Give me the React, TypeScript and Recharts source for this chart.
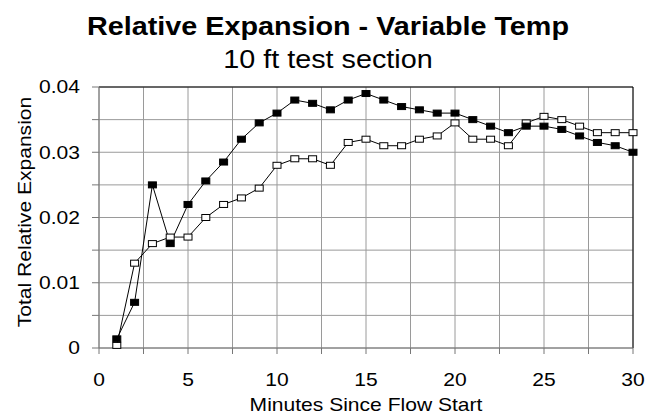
import React from "react";
import {
  LineChart,
  Line,
  XAxis,
  YAxis,
  CartesianGrid,
  ReferenceLine,
} from "recharts";

const minutes = [
  1, 2, 3, 4, 5, 6, 7, 8, 9, 10, 11, 12, 13, 14, 15, 16, 17, 18, 19, 20, 21,
  22, 23, 24, 25, 26, 27, 28, 29, 30,
];

// filled squares
const seriesA = [
  0.0014, 0.007, 0.025, 0.016, 0.022, 0.0256, 0.0285, 0.032, 0.0345, 0.036,
  0.038, 0.0375, 0.0365, 0.038, 0.039, 0.038, 0.037, 0.0365, 0.036, 0.036,
  0.035, 0.034, 0.033, 0.034, 0.034, 0.0335, 0.0325, 0.0315, 0.031, 0.03,
];

// open squares
const seriesB = [
  0.0004, 0.013, 0.016, 0.017, 0.017, 0.02, 0.022, 0.023, 0.0245, 0.028,
  0.029, 0.029, 0.028, 0.0315, 0.032, 0.031, 0.031, 0.032, 0.0325, 0.0345,
  0.032, 0.032, 0.031, 0.0345, 0.0355, 0.035, 0.034, 0.033, 0.033, 0.033,
];

const xTicks = [0, 2.5, 5, 7.5, 10, 12.5, 15, 17.5, 20, 22.5, 25, 27.5, 30];
const yTicks = [0, 0.005, 0.01, 0.015, 0.02, 0.025, 0.03, 0.035, 0.04];

const data = minutes.map((m, i) => ({ m, a: seriesA[i], b: seriesB[i] }));

const FONT = "'Liberation Sans', Arial, sans-serif";
// the original text is drawn a little wider than it is tall
const STRETCH = 1.17;

function Square({ cx, cy, fill }: any) {
  if (cx == null || cy == null) return null;
  return (
    <rect
      x={cx - 4}
      y={cy - 3}
      width={8}
      height={6}
      fill={fill}
      stroke="#000"
      strokeWidth={1}
    />
  );
}

function XTick({ x, y, payload }: any) {
  if (payload.value % 5 !== 0) return null;
  return (
    <g transform={`translate(${x},${y})`}>
      <text
        transform={`scale(${STRETCH},1)`}
        textAnchor="middle"
        dy="0.71em"
        fontSize={18}
        fontFamily={FONT}
        fill="#000"
      >
        {payload.value}
      </text>
    </g>
  );
}

function YTick({ x, y, payload }: any) {
  const v = payload.value;
  if (Math.round(v * 1000) % 10 !== 0) return null;
  return (
    <g transform={`translate(${x},${y})`}>
      <text
        transform={`scale(${STRETCH},1)`}
        textAnchor="end"
        dy="0.355em"
        fontSize={18}
        fontFamily={FONT}
        fill="#000"
      >
        {String(+v.toFixed(2))}
      </text>
    </g>
  );
}

function XTitle({ viewBox }: any) {
  const cx = viewBox.x + viewBox.width / 2;
  return (
    <g transform={`translate(${cx},411)`}>
      <text
        transform={`scale(${STRETCH},1)`}
        textAnchor="middle"
        fontSize={18}
        fontFamily={FONT}
        fill="#000"
      >
        Minutes Since Flow Start
      </text>
    </g>
  );
}

function YTitle() {
  return (
    <g transform="translate(31,212) rotate(-90)">
      <text
        transform={`scale(${STRETCH},1)`}
        textAnchor="middle"
        fontSize={18}
        fontFamily={FONT}
        fill="#000"
      >
        Total Relative Expansion
      </text>
    </g>
  );
}

const titleStyle: React.CSSProperties = {
  position: "absolute",
  left: 0,
  width: 656,
  textAlign: "center",
  fontSize: 25,
  color: "#000",
  lineHeight: "30px",
  transform: `scaleX(${1.15})`,
  transformOrigin: "328px 0",
  whiteSpace: "nowrap",
};

export default function App() {
  return (
    <div style={{ width: 652, height: 415, position: "relative", fontFamily: FONT }}>
      <style>{`body{margin:0}`}</style>
      <div style={{ ...titleStyle, top: 11, fontWeight: "bold" }}>
        Relative Expansion - Variable Temp
      </div>
      <div style={{ ...titleStyle, top: 44 }}>10 ft test section</div>
      <LineChart
        width={652}
        height={415}
        data={data}
        margin={{ top: 87, right: 19, left: 39, bottom: 37 }}
      >
        <CartesianGrid stroke="#9a9a9a" strokeWidth={1} />
        <XAxis
          type="number"
          dataKey="m"
          domain={[0, 30]}
          ticks={xTicks}
          interval={0}
          tick={<XTick />}
          tickSize={6}
          tickMargin={19}
          stroke="#777"
          height={30}
          label={<XTitle />}
        />
        <YAxis
          type="number"
          domain={[0, 0.04]}
          ticks={yTicks}
          interval={0}
          tick={<YTick />}
          tickSize={7}
          tickMargin={12}
          stroke="#777"
          width={60}
          label={<YTitle />}
        />
        <ReferenceLine y={0.04} stroke="#000" strokeWidth={1} />
        <ReferenceLine x={30} stroke="#000" strokeWidth={1} />
        <Line
          dataKey="b"
          stroke="#000"
          strokeWidth={1}
          dot={<Square fill="#fff" />}
          isAnimationActive={false}
        />
        <Line
          dataKey="a"
          stroke="#000"
          strokeWidth={1}
          dot={<Square fill="#000" />}
          isAnimationActive={false}
        />
      </LineChart>
    </div>
  );
}
